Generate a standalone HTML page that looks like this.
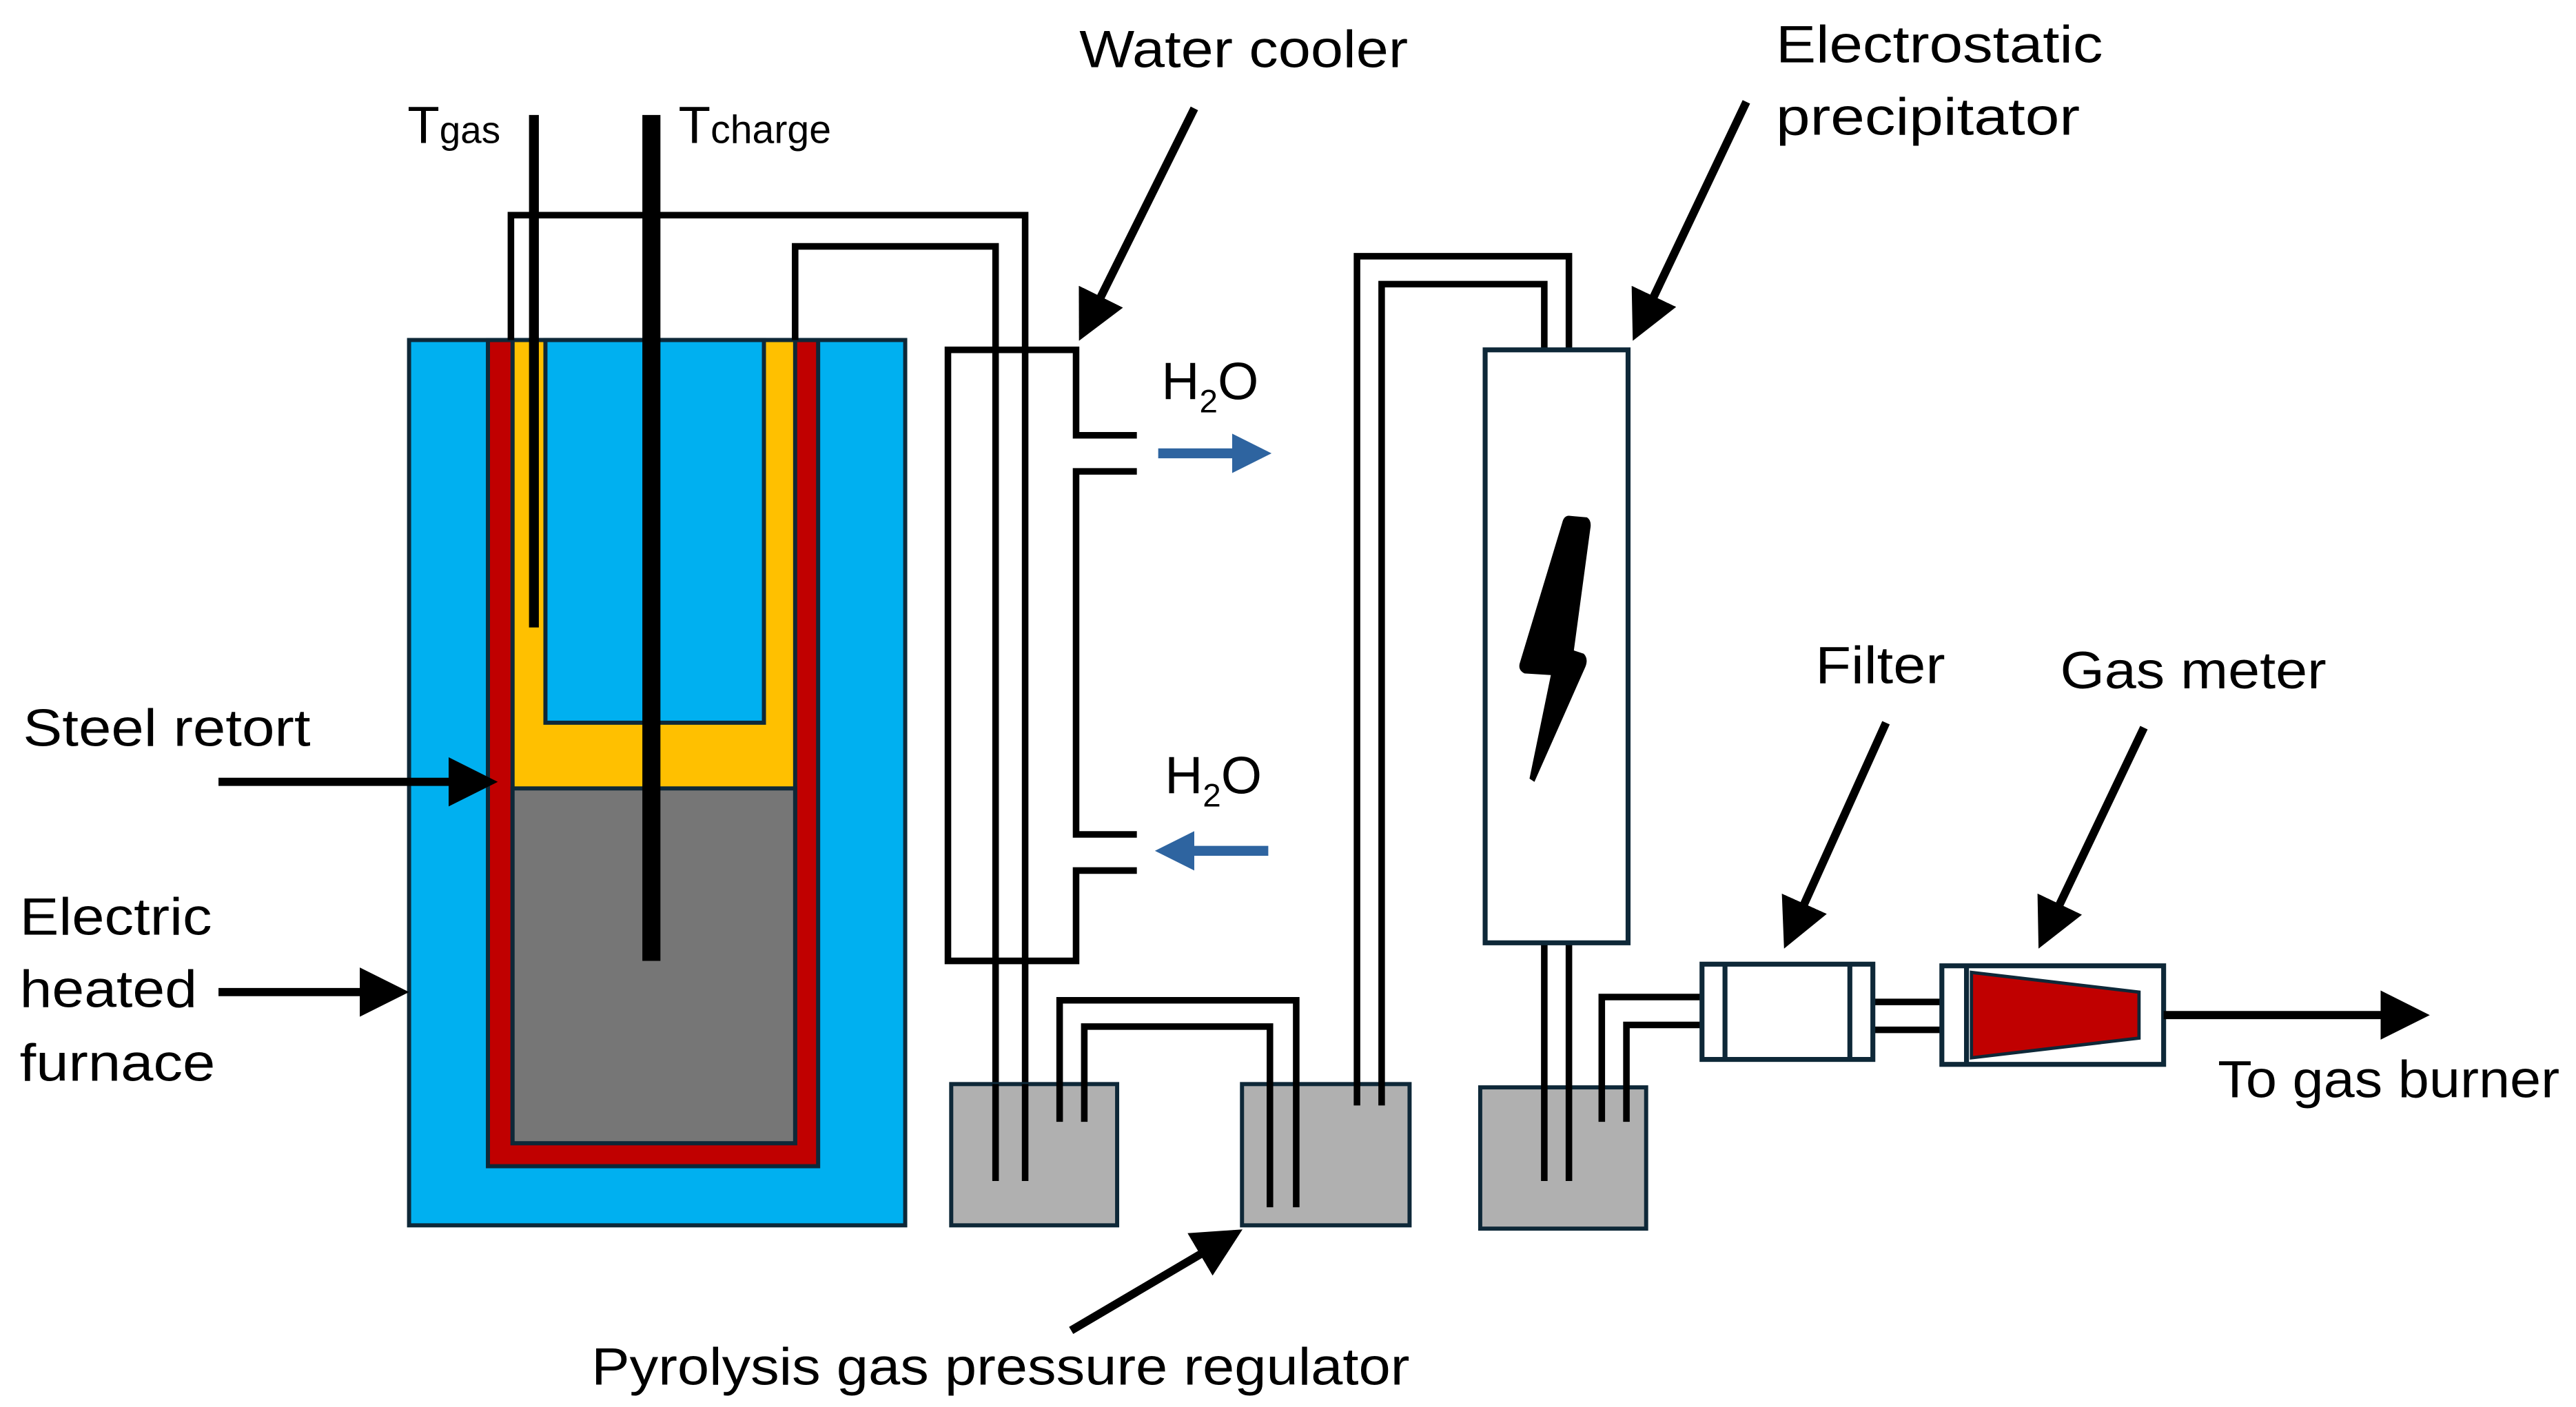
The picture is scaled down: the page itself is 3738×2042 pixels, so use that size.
<!DOCTYPE html>
<html><head><meta charset="utf-8"><style>html,body{margin:0;padding:0;background:#fff}svg{display:block}</style></head>
<body>
<svg width="3738" height="2042" viewBox="0 0 1568 856.6" preserveAspectRatio="none" xmlns="http://www.w3.org/2000/svg" font-family="Liberation Sans, sans-serif">
<defs>
<marker id="ah" markerWidth="6" markerHeight="6" refX="5" refY="3" orient="auto" markerUnits="strokeWidth"><path d="M0,0 L6,3 L0,6 z" fill="#000"/></marker>
<marker id="bh" markerWidth="4" markerHeight="4" refX="3" refY="2" orient="auto" markerUnits="strokeWidth"><path d="M0,0 L4,2 L0,4 z" fill="#2e64a0"/></marker>
</defs>
<rect x="249" y="207" width="302" height="539" fill="#00b0f0" stroke="#0e2838" stroke-width="2.5"/>
<rect x="297" y="207" width="201" height="503" fill="#c00000" stroke="#0e2838" stroke-width="2.5"/>
<rect x="312" y="207" width="172" height="489" fill="#ffc000" stroke="#0e2838" stroke-width="2.5"/>
<rect x="312" y="480" width="172" height="216" fill="#767676" stroke="#0e2838" stroke-width="2.5"/>
<rect x="332" y="207" width="133" height="233" fill="#00b0f0" stroke="#0e2838" stroke-width="2.5"/>
<line x1="297" y1="207" x2="498" y2="207" stroke="#0e2838" stroke-width="2.5"/>
<rect x="391" y="70" width="11" height="515" fill="#000"/>
<rect x="322" y="70" width="6" height="312" fill="#000"/>
<g fill="none" stroke="#000" stroke-width="4">
<polyline points="311,207 311,131 624,131 624,719"/>
<polyline points="484,207 484,150 606,150 606,719"/>
<polyline points="692,265 655,265 655,213 577,213 577,585 655,585 655,530 692,530"/>
<polyline points="692,287 655,287 655,508 692,508"/>
</g>
<rect x="579" y="660" width="101" height="86" fill="#b0b0b0" stroke="#0e2838" stroke-width="2.5"/>
<rect x="756" y="660" width="102" height="86" fill="#b0b0b0" stroke="#0e2838" stroke-width="2.5"/>
<rect x="901" y="662" width="101" height="86" fill="#b0b0b0" stroke="#0e2838" stroke-width="2.5"/>
<g fill="none" stroke="#000" stroke-width="4">
<line x1="606" y1="660" x2="606" y2="719"/><line x1="624" y1="660" x2="624" y2="719"/>
<polyline points="645,683 645,609 789,609 789,735"/>
<polyline points="660,683 660,625 773,625 773,735"/>
<polyline points="826,673 826,156 955,156 955,213"/>
<polyline points="841,673 841,173 940,173 940,213"/>
<line x1="940" y1="574" x2="940" y2="719"/><line x1="955" y1="574" x2="955" y2="719"/>
<polyline points="975,683 975,607 1036,607"/>
<polyline points="990,683 990,624 1036,624"/>
<line x1="1140" y1="610" x2="1182" y2="610"/><line x1="1140" y1="627" x2="1182" y2="627"/>
</g>
<rect x="904" y="213" width="87" height="361" fill="#fff" stroke="#0e2838" stroke-width="3"/>
<path d="M955,314 L966,315 Q969,317 968,322 L958,396 L964,398 Q967,401 965,406 L934,476 L931,474 L944,411 L928,410 Q924,408 925,404 L951,318 Q952,314 955,314 z" fill="#000"/>
<rect x="1036" y="587" width="104" height="58" fill="#fff" stroke="#0e2838" stroke-width="3"/>
<line x1="1050" y1="587" x2="1050" y2="645" stroke="#0e2838" stroke-width="3"/>
<line x1="1126" y1="587" x2="1126" y2="645" stroke="#0e2838" stroke-width="3"/>
<rect x="1182" y="588" width="135" height="60" fill="#fff" stroke="#0e2838" stroke-width="3"/>
<line x1="1197" y1="588" x2="1197" y2="648" stroke="#0e2838" stroke-width="3"/>
<polygon points="1200,592 1302,604 1302,632 1200,644" fill="#c00000" stroke="#0e2838" stroke-width="2"/>
<g stroke="#000" stroke-width="5" fill="none" marker-end="url(#ah)">
<line x1="1317" y1="618" x2="1474" y2="618"/>
<line x1="727" y1="66" x2="659" y2="203"/>
<line x1="1063" y1="62" x2="996" y2="203"/>
<line x1="1148" y1="440" x2="1088" y2="573"/>
<line x1="1305" y1="443" x2="1243" y2="573"/>
<line x1="133" y1="476" x2="298" y2="476"/>
<line x1="133" y1="604" x2="244" y2="604"/>
<line x1="652" y1="810" x2="752" y2="751"/>
</g>
<g stroke="#2e64a0" stroke-width="6" fill="none" marker-end="url(#bh)">
<line x1="705" y1="276" x2="768" y2="276"/>
<line x1="772" y1="518" x2="709" y2="518"/>
</g>
<g font-size="32" fill="#000" lengthAdjust="spacingAndGlyphs">
<text x="657" y="41" textLength="200" lengthAdjust="spacingAndGlyphs">Water cooler</text>
<text x="1081" y="38" textLength="199" lengthAdjust="spacingAndGlyphs">Electrostatic</text>
<text x="1081" y="82" textLength="185" lengthAdjust="spacingAndGlyphs">precipitator</text>
<text x="1105" y="416" textLength="79" lengthAdjust="spacingAndGlyphs">Filter</text>
<text x="1254" y="419" textLength="162" lengthAdjust="spacingAndGlyphs">Gas meter</text>
<text x="1350" y="668" textLength="208" lengthAdjust="spacingAndGlyphs">To gas burner</text>
<text x="360" y="843" textLength="498" lengthAdjust="spacingAndGlyphs">Pyrolysis gas pressure regulator</text>
<text x="14" y="454" textLength="175" lengthAdjust="spacingAndGlyphs">Steel retort</text>
<text x="12" y="569" textLength="117" lengthAdjust="spacingAndGlyphs">Electric</text>
<text x="12" y="613" textLength="108" lengthAdjust="spacingAndGlyphs">heated</text>
<text x="12" y="658" textLength="119" lengthAdjust="spacingAndGlyphs">furnace</text>
<text x="707" y="243">H<tspan font-size="20" dy="8">2</tspan><tspan dy="-8">O</tspan></text>
<text x="709" y="483">H<tspan font-size="20" dy="8">2</tspan><tspan dy="-8">O</tspan></text>
<text x="248" y="87">T<tspan font-size="23">gas</tspan></text>
<text x="413" y="87">T<tspan font-size="24">charge</tspan></text>
</g>
</svg>
</body></html>
